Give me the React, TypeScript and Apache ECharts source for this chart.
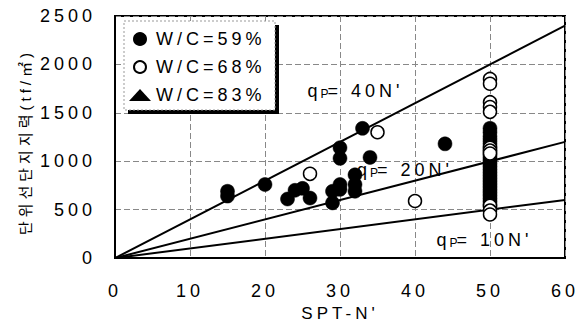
import React, { useEffect, useRef } from 'react';
import * as echarts from 'echarts';

// W/C = 59% (filled circles) : [SPT-N', unit end bearing (tf/m2)]
const wc59: [number, number][] = [
  [15, 690], [15, 640], [20, 760], [23, 610], [24, 700], [25, 720], [26, 620],
  [29, 570], [29, 690], [30, 760], [30, 710], [30, 1140], [30, 1030],
  [32, 860], [32, 760], [32, 690], [33, 1340], [34, 1040], [44, 1180],
  [50, 1340], [50, 1300], [50, 1255], [50, 1220], [50, 1185], [50, 1150],
  [50, 1110], [50, 1080], [50, 1050], [50, 1020], [50, 990], [50, 960],
  [50, 930], [50, 900], [50, 870], [50, 840], [50, 810], [50, 780],
  [50, 750], [50, 720], [50, 690], [50, 660], [50, 630], [50, 600],
  [50, 570], [50, 540],
];

// W/C = 68% (open circles)
const wc68: [number, number][] = [
  [26, 870], [35, 1300], [40, 590],
  [50, 1850], [50, 1800], [50, 1610], [50, 1560], [50, 1510],
  [50, 1140], [50, 1110], [50, 1080],
  [50, 540], [50, 490], [50, 450],
];

// W/C = 83% (triangles) - none plotted
const wc83: [number, number][] = [];

const seriesNames = ['W/C=59%', 'W/C=68%', 'W/C=83%'];

// reference lines qp = k * N'
const lineFactors = [40, 20, 10];
const lineLabels = ["40N'", "20N'", "10N'"];
const lineLabelAt: [number, number][] = [[31.4, 1725], [38.0, 905], [48.6, 185]];

const xMax = 60;
const yMax = 2500;

const FONT = '"Liberation Sans", Arial, sans-serif';

export default function App() {
  const ref = useRef<HTMLDivElement>(null);

  useEffect(() => {
    document.body.style.margin = '0';
    if (!ref.current) return;
    const chart = echarts.init(ref.current, null, { renderer: 'svg' });

    const lineSeries = lineFactors.map((k, i) => ({
      name: 'qp' + k,
      type: 'line',
      data: [[0, 0], [xMax, xMax * k]],
      symbol: 'none',
      lineStyle: { color: '#000', width: 2 },
      z: 3,
      silent: true,
      markPoint: {
        symbol: 'circle',
        symbolSize: 0,
        data: [{ coord: lineLabelAt[i] }],
        label: {
          show: true,
          position: 'inside',
          formatter: '{q|q}{p|P}{t|= ' + lineLabels[i] + '}',
          rich: {
            q: { fontSize: 18, fontFamily: FONT, color: '#000', padding: [0, 3, 0, 0] },
            p: { fontSize: 12, fontFamily: FONT, color: '#000', verticalAlign: 'bottom', padding: [0, 9, 0, 0] },
            t: { fontSize: 18, fontFamily: FONT, color: '#000' },
          },
        },
      },
    }));

    const option: any = {
      animation: false,
      textStyle: { fontFamily: FONT, color: '#000' },
      grid: {
        left: 115,
        right: 20,
        top: 16,
        bottom: 61,
        show: true,
        borderColor: '#000',
        borderWidth: 2,
        backgroundColor: 'transparent',
      },
      graphic: [
        {
          type: 'rect',
          z: 8,
          shape: { x: 128, y: 25, width: 151, height: 89 },
          style: { fill: '#000' },
        },
        {
          type: 'rect',
          z: 9,
          shape: { x: 124, y: 21, width: 151, height: 89 },
          style: { fill: '#fff', stroke: '#999', lineWidth: 1, lineDash: [2, 2] },
        },
      ],
      legend: {
        data: [
          { name: seriesNames[0], icon: 'circle' },
          { name: seriesNames[1], icon: 'circle' },
          { name: seriesNames[2], icon: 'triangle' },
        ],
        orient: 'vertical',
        left: 124,
        top: 21,
        itemWidth: 22,
        itemHeight: 12,
        itemGap: 10,
        padding: [9, 36, 5, 5],
        backgroundColor: 'transparent',
        borderWidth: 0,
        textStyle: { fontSize: 18, fontFamily: FONT, color: '#000' },
        z: 10,
      },
      xAxis: {
        type: 'value',
        min: 0,
        max: xMax,
        interval: 10,
        name: "SPT-N'",
        nameLocation: 'middle',
        nameGap: 46,
        nameTextStyle: { fontSize: 17, fontFamily: FONT, color: '#000' },
        axisLine: { show: true, lineStyle: { color: '#000', width: 2 } },
        axisTick: { show: false },
        axisLabel: { fontSize: 18, fontFamily: FONT, color: '#000', margin: 24 },
        splitLine: { show: true, lineStyle: { color: '#888', width: 1, type: [6, 3] } },
      },
      yAxis: {
        type: 'value',
        min: 0,
        max: yMax,
        interval: 500,
        name: '단위선단지지력(tf/㎡)',
        nameLocation: 'middle',
        nameGap: 82,
        nameTextStyle: {
          fontSize: 15,
          fontFamily: '"Liberation Sans", "Noto Sans CJK KR", sans-serif',
          color: '#000',
          padding: [0, 10, 0, 0],
        },
        axisLine: { show: true, lineStyle: { color: '#000', width: 2 } },
        axisTick: { show: false },
        axisLabel: {
          fontSize: 18,
          fontFamily: FONT,
          color: '#000',
          margin: 19,
          formatter: (v: number) => String(v),
        },
        splitLine: { show: true, lineStyle: { color: '#888', width: 1, type: [6, 3] } },
      },
      series: [
        ...lineSeries,
        {
          name: seriesNames[0],
          type: 'scatter',
          data: wc59,
          symbol: 'circle',
          symbolSize: 14,
          itemStyle: { color: '#000', borderColor: '#000', borderWidth: 0.5, opacity: 1 },
          z: 4,
        },
        {
          name: seriesNames[1],
          type: 'scatter',
          data: wc68,
          symbol: 'circle',
          symbolSize: 13,
          itemStyle: { color: '#fff', borderColor: '#000', borderWidth: 1.5, opacity: 1 },
          z: 5,
        },
        {
          name: seriesNames[2],
          type: 'scatter',
          data: wc83,
          symbol: 'triangle',
          symbolSize: 14,
          itemStyle: { color: '#000', opacity: 1 },
          z: 5,
        },
      ],
    };

    chart.setOption(option);
    return () => chart.dispose();
  }, []);

  return (
    <>
      <style>{'.refchart text { letter-spacing: 4px; }'}</style>
      <div className="refchart" ref={ref} style={{ width: 585, height: 327 }} />
    </>
  );
}
